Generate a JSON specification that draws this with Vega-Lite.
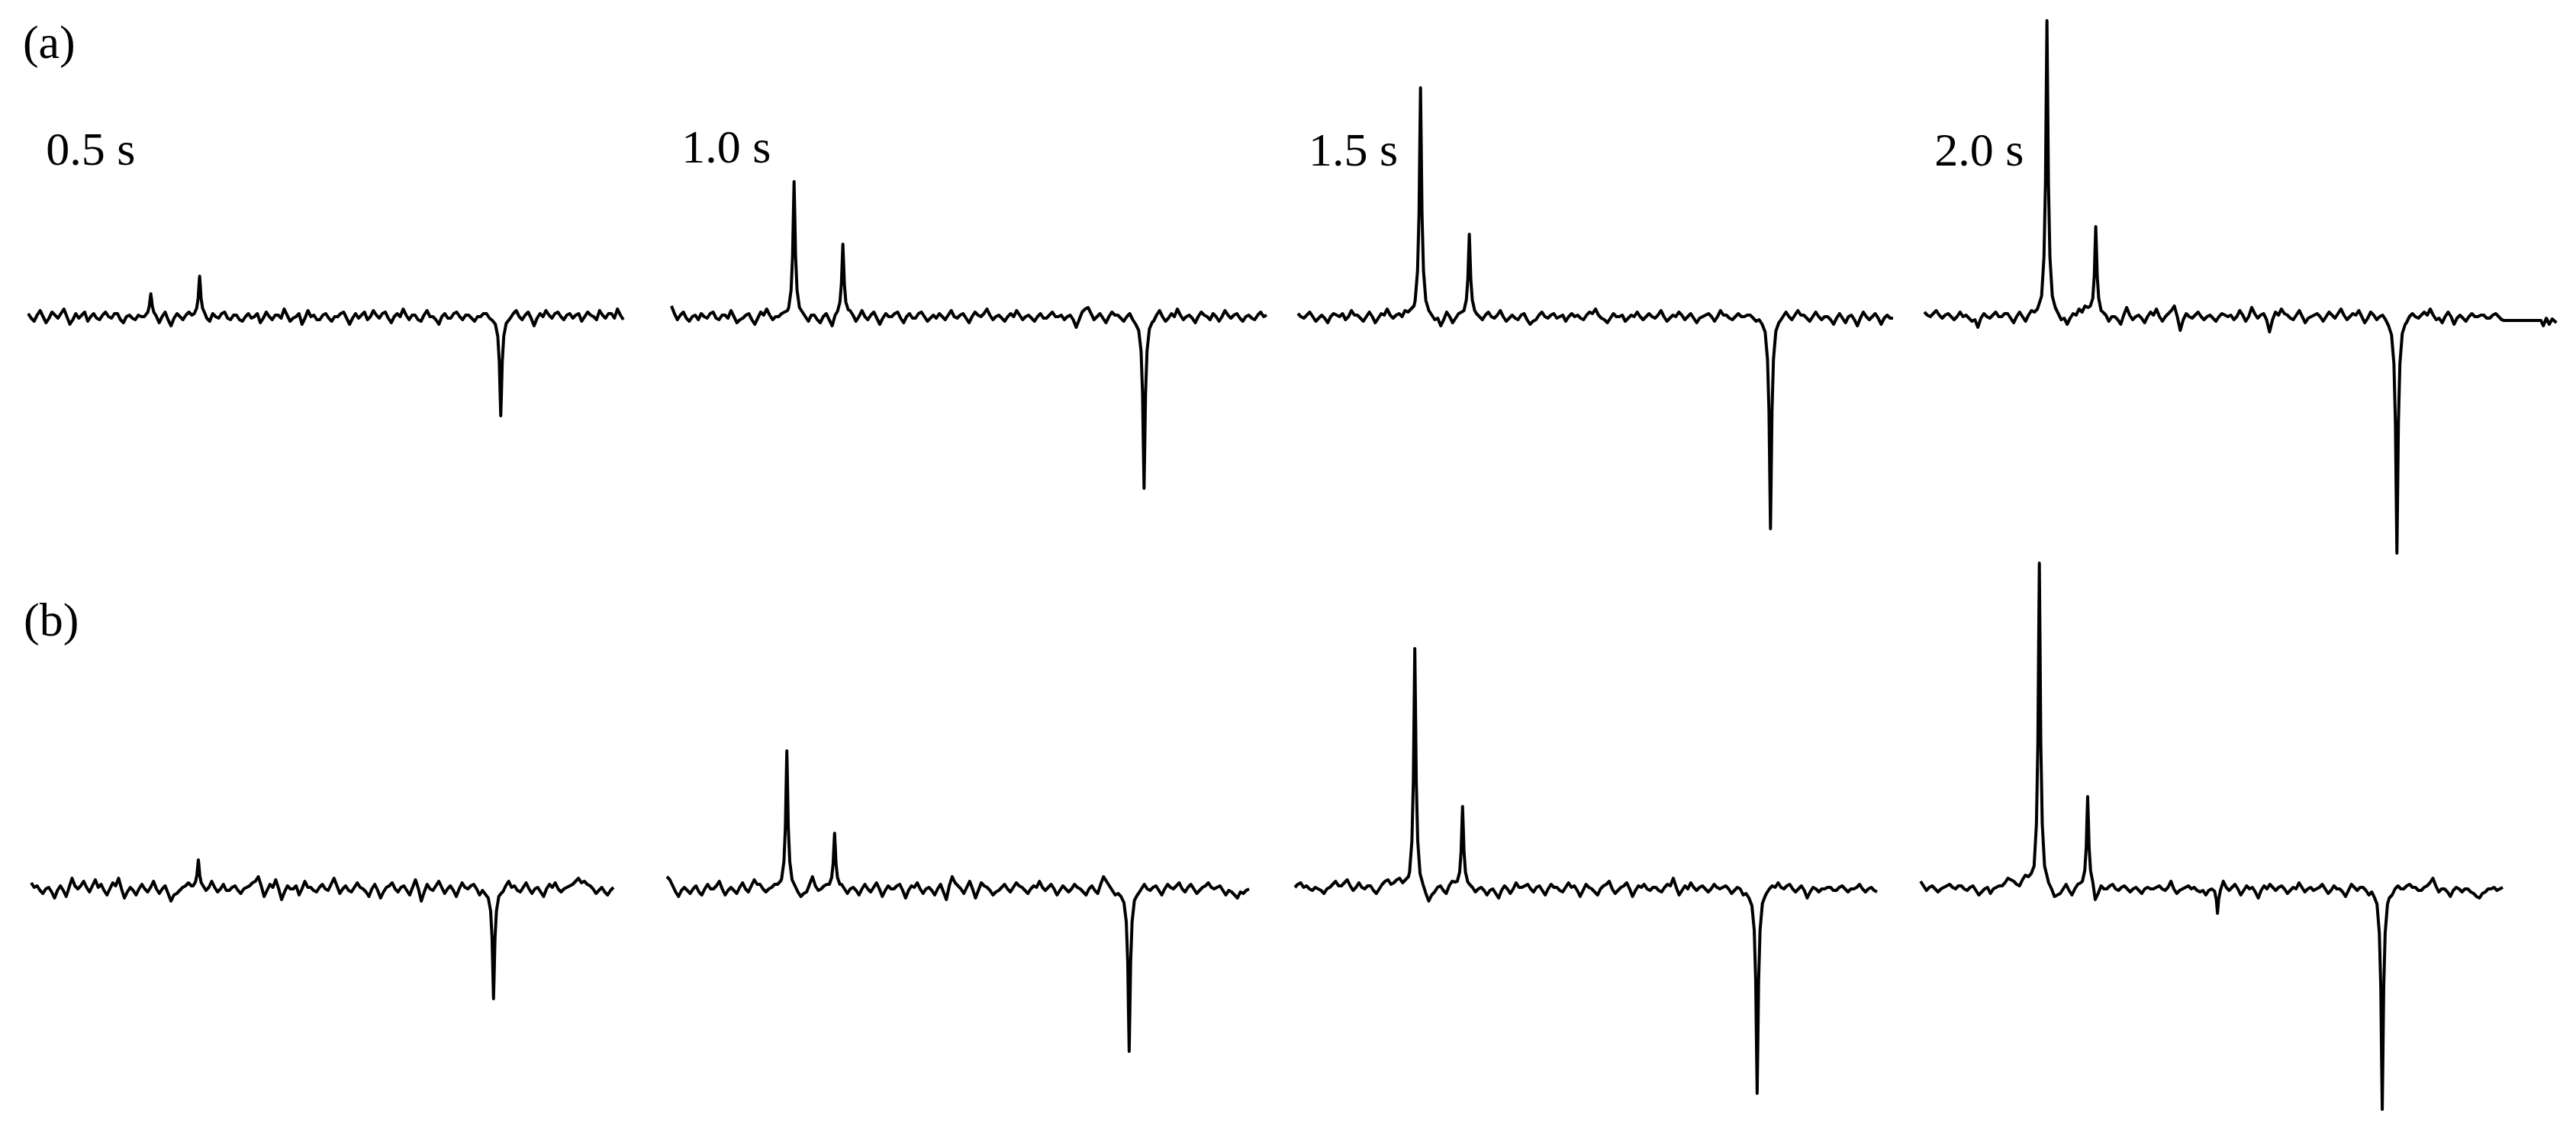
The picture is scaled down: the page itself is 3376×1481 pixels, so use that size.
{
"$schema": "https://vega.github.io/schema/vega-lite/v6.json",
"padding": 0,
"background": "white",
"spacing": 0,
"columns": 4,
"bounds": "flush",
"config": {"view": {"stroke": null}},
"datasets": {
"a1": [{"x":0,"y":4},{"x":0.5,"y":-2},{"x":1,"y":-6},{"x":1.5,"y":2},{"x":2,"y":8},{"x":2.5,"y":0},{"x":3,"y":-8},{"x":3.5,"y":-2},{"x":4,"y":6},{"x":4.5,"y":2},{"x":5,"y":-2},{"x":5.5,"y":4},{"x":6,"y":10},{"x":6.5,"y":0},{"x":7,"y":-10},{"x":7.5,"y":-4},{"x":8,"y":4},{"x":8.5,"y":-2},{"x":9,"y":2},{"x":9.5,"y":6},{"x":10,"y":-6},{"x":10.5,"y":0},{"x":11,"y":4},{"x":11.5,"y":-2},{"x":12,"y":-4},{"x":12.5,"y":2},{"x":13,"y":6},{"x":13.5,"y":0},{"x":14,"y":-2},{"x":14.5,"y":4},{"x":15,"y":4},{"x":15.5,"y":-4},{"x":16,"y":-8},{"x":16.5,"y":0},{"x":17,"y":2},{"x":17.5,"y":-2},{"x":18,"y":-4},{"x":18.5,"y":2},{"x":19,"y":0},{"x":19.5,"y":0},{"x":19.7,"y":2},{"x":20.1,"y":6},{"x":20.35,"y":14},{"x":20.48,"y":23},{"x":20.6,"y":30},{"x":20.72,"y":23},{"x":20.85,"y":14},{"x":21.1,"y":6},{"x":21.5,"y":1},{"x":22,"y":-8},{"x":22.5,"y":0},{"x":23,"y":6},{"x":23.5,"y":-4},{"x":24,"y":-12},{"x":24.5,"y":-2},{"x":25,"y":4},{"x":25.5,"y":0},{"x":26,"y":-4},{"x":26.5,"y":2},{"x":27,"y":6},{"x":27.5,"y":2},{"x":27.9,"y":4},{"x":28.3,"y":11},{"x":28.55,"y":24},{"x":28.68,"y":40},{"x":28.8,"y":53},{"x":28.92,"y":40},{"x":29.05,"y":24},{"x":29.3,"y":11},{"x":29.7,"y":4},{"x":30,"y":-2},{"x":30.5,"y":-6},{"x":31,"y":4},{"x":31.5,"y":0},{"x":32,"y":-2},{"x":32.5,"y":4},{"x":33,"y":6},{"x":33.5,"y":-2},{"x":34,"y":-4},{"x":34.5,"y":2},{"x":35,"y":2},{"x":35.5,"y":-4},{"x":36,"y":-6},{"x":36.5,"y":0},{"x":37,"y":4},{"x":37.5,"y":-2},{"x":38,"y":0},{"x":38.5,"y":4},{"x":39,"y":-8},{"x":39.5,"y":-2},{"x":40,"y":6},{"x":40.5,"y":0},{"x":41,"y":-4},{"x":41.5,"y":2},{"x":42,"y":2},{"x":42.5,"y":-2},{"x":43,"y":10},{"x":43.5,"y":2},{"x":44,"y":-6},{"x":44.5,"y":-2},{"x":45,"y":0},{"x":45.5,"y":4},{"x":46,"y":-10},{"x":46.5,"y":-2},{"x":47,"y":8},{"x":47.5,"y":0},{"x":48,"y":2},{"x":48.5,"y":-4},{"x":49,"y":-4},{"x":49.5,"y":2},{"x":50,"y":4},{"x":50.5,"y":-2},{"x":51,"y":-6},{"x":51.5,"y":0},{"x":52,"y":0},{"x":52.5,"y":4},{"x":53,"y":6},{"x":53.5,"y":-2},{"x":54,"y":-10},{"x":54.5,"y":-2},{"x":55,"y":4},{"x":55.5,"y":-2},{"x":56,"y":2},{"x":56.5,"y":6},{"x":57,"y":-4},{"x":57.5,"y":0},{"x":58,"y":8},{"x":58.5,"y":2},{"x":59,"y":-2},{"x":59.5,"y":4},{"x":60,"y":6},{"x":60.5,"y":-2},{"x":61,"y":-8},{"x":61.5,"y":0},{"x":62,"y":4},{"x":62.5,"y":0},{"x":63,"y":10},{"x":63.5,"y":2},{"x":64,"y":-4},{"x":64.5,"y":2},{"x":65,"y":2},{"x":65.5,"y":-4},{"x":66,"y":-6},{"x":66.5,"y":2},{"x":67,"y":8},{"x":67.5,"y":0},{"x":68,"y":0},{"x":68.5,"y":-4},{"x":69,"y":-10},{"x":69.5,"y":0},{"x":70,"y":4},{"x":70.5,"y":-2},{"x":71,"y":-2},{"x":71.5,"y":4},{"x":72,"y":6},{"x":72.5,"y":0},{"x":73,"y":-4},{"x":73.5,"y":2},{"x":74,"y":2},{"x":74.5,"y":-2},{"x":75,"y":-6},{"x":75.5,"y":0},{"x":76,"y":0},{"x":76.5,"y":4},{"x":77,"y":4},{"x":77.5,"y":-2},{"x":78,"y":-5},{"x":78.5,"y":-10},{"x":78.9,"y":-26},{"x":79.15,"y":-59},{"x":79.28,"y":-98},{"x":79.4,"y":-130},{"x":79.52,"y":-98},{"x":79.65,"y":-59},{"x":79.9,"y":-26},{"x":80.3,"y":-9},{"x":80.8,"y":-4},{"x":81,"y":-2},{"x":81.5,"y":4},{"x":82,"y":8},{"x":82.5,"y":0},{"x":83,"y":-4},{"x":83.5,"y":2},{"x":84,"y":6},{"x":84.5,"y":-2},{"x":85,"y":-12},{"x":85.5,"y":-2},{"x":86,"y":4},{"x":86.5,"y":0},{"x":87,"y":8},{"x":87.5,"y":2},{"x":88,"y":-2},{"x":88.5,"y":4},{"x":89,"y":6},{"x":89.5,"y":0},{"x":90,"y":-4},{"x":90.5,"y":2},{"x":91,"y":4},{"x":91.5,"y":-2},{"x":92,"y":2},{"x":92.5,"y":4},{"x":93,"y":-6},{"x":93.5,"y":0},{"x":94,"y":6},{"x":94.5,"y":2},{"x":95,"y":0},{"x":95.5,"y":-4},{"x":96,"y":8},{"x":96.5,"y":2},{"x":97,"y":-2},{"x":97.5,"y":4},{"x":98,"y":4},{"x":98.5,"y":-2},{"x":99,"y":10},{"x":99.5,"y":2},{"x":100,"y":-4}],
"a2": [{"x":0,"y":14},{"x":0.5,"y":4},{"x":1,"y":-4},{"x":1.5,"y":2},{"x":2,"y":6},{"x":2.5,"y":-2},{"x":3,"y":-6},{"x":3.5,"y":0},{"x":4,"y":2},{"x":4.5,"y":-4},{"x":5,"y":4},{"x":5.5,"y":0},{"x":6,"y":-2},{"x":6.5,"y":4},{"x":7,"y":6},{"x":7.5,"y":-2},{"x":8,"y":-4},{"x":8.5,"y":2},{"x":9,"y":2},{"x":9.5,"y":-2},{"x":10,"y":8},{"x":10.5,"y":0},{"x":11,"y":-8},{"x":11.5,"y":-4},{"x":12,"y":-2},{"x":12.5,"y":2},{"x":13,"y":4},{"x":13.5,"y":-4},{"x":14,"y":-10},{"x":14.5,"y":-2},{"x":15,"y":6},{"x":15.5,"y":2},{"x":16,"y":10},{"x":16.5,"y":2},{"x":17,"y":-4},{"x":17.5,"y":0},{"x":18,"y":0},{"x":18.5,"y":4},{"x":19,"y":6},{"x":19.5,"y":8},{"x":19.7,"y":12},{"x":20.1,"y":35},{"x":20.35,"y":80},{"x":20.48,"y":133},{"x":20.6,"y":177},{"x":20.72,"y":133},{"x":20.85,"y":80},{"x":21.1,"y":35},{"x":21.5,"y":12},{"x":22,"y":6},{"x":22.5,"y":0},{"x":23,"y":-6},{"x":23.5,"y":2},{"x":24,"y":2},{"x":24.5,"y":-4},{"x":25,"y":-8},{"x":25.5,"y":0},{"x":26,"y":4},{"x":26.5,"y":-4},{"x":27,"y":-12},{"x":27.5,"y":2},{"x":27.9,"y":7},{"x":28.3,"y":19},{"x":28.55,"y":43},{"x":28.68,"y":71},{"x":28.8,"y":95},{"x":28.92,"y":71},{"x":29.05,"y":43},{"x":29.3,"y":19},{"x":29.7,"y":9},{"x":30,"y":8},{"x":30.5,"y":2},{"x":31,"y":-6},{"x":31.5,"y":0},{"x":32,"y":8},{"x":32.5,"y":0},{"x":33,"y":-4},{"x":33.5,"y":2},{"x":34,"y":6},{"x":34.5,"y":-2},{"x":35,"y":-10},{"x":35.5,"y":-2},{"x":36,"y":4},{"x":36.5,"y":0},{"x":37,"y":0},{"x":37.5,"y":4},{"x":38,"y":6},{"x":38.5,"y":-2},{"x":39,"y":-8},{"x":39.5,"y":0},{"x":40,"y":4},{"x":40.5,"y":-2},{"x":41,"y":-2},{"x":41.5,"y":4},{"x":42,"y":6},{"x":42.5,"y":0},{"x":43,"y":-6},{"x":43.5,"y":-2},{"x":44,"y":2},{"x":44.5,"y":-2},{"x":45,"y":4},{"x":45.5,"y":0},{"x":46,"y":-4},{"x":46.5,"y":2},{"x":47,"y":8},{"x":47.5,"y":0},{"x":48,"y":-2},{"x":48.5,"y":2},{"x":49,"y":4},{"x":49.5,"y":-2},{"x":50,"y":-8},{"x":50.5,"y":0},{"x":51,"y":6},{"x":51.5,"y":2},{"x":52,"y":0},{"x":52.5,"y":4},{"x":53,"y":10},{"x":53.5,"y":2},{"x":54,"y":-4},{"x":54.5,"y":0},{"x":55,"y":2},{"x":55.5,"y":-2},{"x":56,"y":-6},{"x":56.5,"y":0},{"x":57,"y":4},{"x":57.5,"y":0},{"x":58,"y":8},{"x":58.5,"y":2},{"x":59,"y":-4},{"x":59.5,"y":0},{"x":60,"y":2},{"x":60.5,"y":-2},{"x":61,"y":-6},{"x":61.5,"y":0},{"x":62,"y":4},{"x":62.5,"y":-2},{"x":63,"y":-2},{"x":63.5,"y":2},{"x":64,"y":6},{"x":64.5,"y":0},{"x":65,"y":0},{"x":65.5,"y":2},{"x":66,"y":-4},{"x":66.5,"y":0},{"x":67,"y":2},{"x":67.5,"y":-4},{"x":68,"y":-14},{"x":68.5,"y":-4},{"x":69,"y":6},{"x":69.5,"y":10},{"x":70,"y":12},{"x":70.5,"y":4},{"x":71,"y":-4},{"x":71.5,"y":0},{"x":72,"y":4},{"x":72.5,"y":-2},{"x":73,"y":-8},{"x":73.5,"y":0},{"x":74,"y":6},{"x":74.5,"y":2},{"x":75,"y":2},{"x":75.5,"y":-2},{"x":76,"y":-6},{"x":76.5,"y":0},{"x":77,"y":4},{"x":77.5,"y":-4},{"x":78,"y":-10},{"x":78.5,"y":-18},{"x":78.9,"y":-45},{"x":79.15,"y":-101},{"x":79.28,"y":-169},{"x":79.4,"y":-225},{"x":79.52,"y":-169},{"x":79.65,"y":-101},{"x":79.9,"y":-45},{"x":80.3,"y":-16},{"x":80.8,"y":-7},{"x":81,"y":-6},{"x":81.5,"y":2},{"x":82,"y":8},{"x":82.5,"y":0},{"x":83,"y":-6},{"x":83.5,"y":-2},{"x":84,"y":4},{"x":84.5,"y":0},{"x":85,"y":10},{"x":85.5,"y":2},{"x":86,"y":-4},{"x":86.5,"y":0},{"x":87,"y":2},{"x":87.5,"y":-2},{"x":88,"y":-8},{"x":88.5,"y":0},{"x":89,"y":6},{"x":89.5,"y":2},{"x":90,"y":0},{"x":90.5,"y":-4},{"x":91,"y":4},{"x":91.5,"y":0},{"x":92,"y":-6},{"x":92.5,"y":0},{"x":93,"y":8},{"x":93.5,"y":2},{"x":94,"y":-2},{"x":94.5,"y":2},{"x":95,"y":4},{"x":95.5,"y":-2},{"x":96,"y":-6},{"x":96.5,"y":0},{"x":97,"y":2},{"x":97.5,"y":-2},{"x":98,"y":-4},{"x":98.5,"y":2},{"x":99,"y":6},{"x":99.5,"y":0},{"x":100,"y":2}],
"a3": [{"x":0,"y":4},{"x":0.5,"y":0},{"x":1,"y":-2},{"x":1.5,"y":2},{"x":2,"y":6},{"x":2.5,"y":0},{"x":3,"y":-6},{"x":3.5,"y":-2},{"x":4,"y":2},{"x":4.5,"y":-2},{"x":5,"y":-8},{"x":5.5,"y":0},{"x":6,"y":4},{"x":6.5,"y":2},{"x":7,"y":0},{"x":7.5,"y":4},{"x":8,"y":-4},{"x":8.5,"y":0},{"x":9,"y":8},{"x":9.5,"y":2},{"x":10,"y":2},{"x":10.5,"y":-2},{"x":11,"y":-6},{"x":11.5,"y":0},{"x":12,"y":6},{"x":12.5,"y":0},{"x":13,"y":-8},{"x":13.5,"y":-2},{"x":14,"y":4},{"x":14.5,"y":2},{"x":15,"y":10},{"x":15.5,"y":2},{"x":16,"y":-2},{"x":16.5,"y":2},{"x":17,"y":4},{"x":17.5,"y":0},{"x":18,"y":8},{"x":18.5,"y":6},{"x":19,"y":10},{"x":19.5,"y":14},{"x":19.7,"y":21},{"x":20.1,"y":60},{"x":20.35,"y":135},{"x":20.48,"y":225},{"x":20.6,"y":300},{"x":20.72,"y":225},{"x":20.85,"y":135},{"x":21.1,"y":60},{"x":21.5,"y":21},{"x":22,"y":8},{"x":22.5,"y":2},{"x":23,"y":-4},{"x":23.5,"y":-2},{"x":24,"y":-12},{"x":24.5,"y":-4},{"x":25,"y":6},{"x":25.5,"y":0},{"x":26,"y":-8},{"x":26.5,"y":-2},{"x":27,"y":4},{"x":27.5,"y":6},{"x":27.9,"y":8},{"x":28.3,"y":22},{"x":28.55,"y":49},{"x":28.68,"y":81},{"x":28.8,"y":108},{"x":28.92,"y":81},{"x":29.05,"y":49},{"x":29.3,"y":22},{"x":29.7,"y":8},{"x":30,"y":4},{"x":30.5,"y":0},{"x":31,"y":-4},{"x":31.5,"y":2},{"x":32,"y":6},{"x":32.5,"y":0},{"x":33,"y":-2},{"x":33.5,"y":2},{"x":34,"y":8},{"x":34.5,"y":0},{"x":35,"y":-6},{"x":35.5,"y":-2},{"x":36,"y":2},{"x":36.5,"y":-2},{"x":37,"y":-4},{"x":37.5,"y":2},{"x":38,"y":4},{"x":38.5,"y":-4},{"x":39,"y":-10},{"x":39.5,"y":-6},{"x":40,"y":-4},{"x":40.5,"y":2},{"x":41,"y":6},{"x":41.5,"y":0},{"x":42,"y":-2},{"x":42.5,"y":2},{"x":43,"y":4},{"x":43.5,"y":-2},{"x":44,"y":0},{"x":44.5,"y":2},{"x":45,"y":-6},{"x":45.5,"y":0},{"x":46,"y":4},{"x":46.5,"y":0},{"x":47,"y":2},{"x":47.5,"y":-2},{"x":48,"y":-4},{"x":48.5,"y":2},{"x":49,"y":6},{"x":49.5,"y":4},{"x":50,"y":10},{"x":50.5,"y":2},{"x":51,"y":-2},{"x":51.5,"y":-4},{"x":52,"y":-8},{"x":52.5,"y":-2},{"x":53,"y":4},{"x":53.5,"y":0},{"x":54,"y":0},{"x":54.5,"y":2},{"x":55,"y":-6},{"x":55.5,"y":-2},{"x":56,"y":2},{"x":56.5,"y":0},{"x":57,"y":6},{"x":57.5,"y":0},{"x":58,"y":-4},{"x":58.5,"y":0},{"x":59,"y":4},{"x":59.5,"y":0},{"x":60,"y":-2},{"x":60.5,"y":2},{"x":61,"y":8},{"x":61.5,"y":0},{"x":62,"y":-6},{"x":62.5,"y":-2},{"x":63,"y":2},{"x":63.5,"y":0},{"x":64,"y":6},{"x":64.5,"y":2},{"x":65,"y":-4},{"x":65.5,"y":0},{"x":66,"y":4},{"x":66.5,"y":-2},{"x":67,"y":-8},{"x":67.5,"y":-2},{"x":68,"y":0},{"x":68.5,"y":2},{"x":69,"y":4},{"x":69.5,"y":0},{"x":70,"y":-6},{"x":70.5,"y":0},{"x":71,"y":8},{"x":71.5,"y":2},{"x":72,"y":2},{"x":72.5,"y":-2},{"x":73,"y":-4},{"x":73.5,"y":0},{"x":74,"y":4},{"x":74.5,"y":0},{"x":75,"y":0},{"x":75.5,"y":2},{"x":76,"y":2},{"x":76.5,"y":-2},{"x":77,"y":-6},{"x":77.5,"y":-4},{"x":78,"y":-10},{"x":78.5,"y":-20},{"x":78.9,"y":-56},{"x":79.15,"y":-125},{"x":79.28,"y":-209},{"x":79.4,"y":-278},{"x":79.52,"y":-209},{"x":79.65,"y":-125},{"x":79.9,"y":-56},{"x":80.3,"y":-19},{"x":80.8,"y":-8},{"x":81,"y":-6},{"x":81.5,"y":0},{"x":82,"y":6},{"x":82.5,"y":0},{"x":83,"y":-4},{"x":83.5,"y":2},{"x":84,"y":8},{"x":84.5,"y":2},{"x":85,"y":2},{"x":85.5,"y":-2},{"x":86,"y":-6},{"x":86.5,"y":0},{"x":87,"y":6},{"x":87.5,"y":0},{"x":88,"y":-4},{"x":88.5,"y":0},{"x":89,"y":0},{"x":89.5,"y":-4},{"x":90,"y":-10},{"x":90.5,"y":-2},{"x":91,"y":4},{"x":91.5,"y":-2},{"x":92,"y":-8},{"x":92.5,"y":0},{"x":93,"y":2},{"x":93.5,"y":-4},{"x":94,"y":-12},{"x":94.5,"y":-2},{"x":95,"y":6},{"x":95.5,"y":0},{"x":96,"y":-4},{"x":96.5,"y":0},{"x":97,"y":4},{"x":97.5,"y":-2},{"x":98,"y":-10},{"x":98.5,"y":-2},{"x":99,"y":2},{"x":99.5,"y":-2},{"x":100,"y":-2}],
"a4": [{"x":0,"y":6},{"x":0.5,"y":2},{"x":1,"y":0},{"x":1.5,"y":4},{"x":2,"y":8},{"x":2.5,"y":2},{"x":3,"y":-2},{"x":3.5,"y":2},{"x":4,"y":4},{"x":4.5,"y":0},{"x":5,"y":-4},{"x":5.5,"y":0},{"x":6,"y":6},{"x":6.5,"y":0},{"x":7,"y":2},{"x":7.5,"y":-2},{"x":8,"y":-6},{"x":8.5,"y":-4},{"x":9,"y":-14},{"x":9.5,"y":-2},{"x":10,"y":4},{"x":10.5,"y":0},{"x":11,"y":-2},{"x":11.5,"y":2},{"x":12,"y":6},{"x":12.5,"y":0},{"x":13,"y":0},{"x":13.5,"y":4},{"x":14,"y":4},{"x":14.5,"y":-2},{"x":15,"y":-8},{"x":15.5,"y":0},{"x":16,"y":6},{"x":16.5,"y":0},{"x":17,"y":-6},{"x":17.5,"y":2},{"x":18,"y":8},{"x":18.5,"y":6},{"x":19,"y":10},{"x":19.5,"y":22},{"x":19.7,"y":27},{"x":20.1,"y":78},{"x":20.35,"y":175},{"x":20.48,"y":291},{"x":20.6,"y":388},{"x":20.72,"y":291},{"x":20.85,"y":175},{"x":21.1,"y":78},{"x":21.5,"y":27},{"x":22,"y":12},{"x":22.5,"y":4},{"x":23,"y":-4},{"x":23.5,"y":-2},{"x":24,"y":-10},{"x":24.5,"y":-2},{"x":25,"y":4},{"x":25.5,"y":2},{"x":26,"y":10},{"x":26.5,"y":6},{"x":27,"y":14},{"x":27.5,"y":12},{"x":27.9,"y":14},{"x":28.3,"y":24},{"x":28.55,"y":53},{"x":28.68,"y":89},{"x":28.8,"y":118},{"x":28.92,"y":89},{"x":29.05,"y":53},{"x":29.3,"y":24},{"x":29.7,"y":8},{"x":30,"y":6},{"x":30.5,"y":2},{"x":31,"y":-6},{"x":31.5,"y":0},{"x":32,"y":0},{"x":32.5,"y":-4},{"x":33,"y":-10},{"x":33.5,"y":2},{"x":34,"y":12},{"x":34.5,"y":2},{"x":35,"y":-4},{"x":35.5,"y":0},{"x":36,"y":2},{"x":36.5,"y":-2},{"x":37,"y":-8},{"x":37.5,"y":0},{"x":38,"y":6},{"x":38.5,"y":2},{"x":39,"y":10},{"x":39.5,"y":0},{"x":40,"y":-6},{"x":40.5,"y":0},{"x":41,"y":4},{"x":41.5,"y":8},{"x":42,"y":14},{"x":42.5,"y":0},{"x":43,"y":-18},{"x":43.5,"y":-4},{"x":44,"y":4},{"x":44.5,"y":0},{"x":45,"y":-2},{"x":45.5,"y":2},{"x":46,"y":6},{"x":46.5,"y":0},{"x":47,"y":-4},{"x":47.5,"y":0},{"x":48,"y":2},{"x":48.5,"y":-2},{"x":49,"y":-6},{"x":49.5,"y":0},{"x":50,"y":4},{"x":50.5,"y":2},{"x":51,"y":0},{"x":51.5,"y":2},{"x":52,"y":-4},{"x":52.5,"y":0},{"x":53,"y":8},{"x":53.5,"y":2},{"x":54,"y":-6},{"x":54.5,"y":0},{"x":55,"y":12},{"x":55.5,"y":4},{"x":56,"y":-2},{"x":56.5,"y":2},{"x":57,"y":4},{"x":57.5,"y":-4},{"x":58,"y":-20},{"x":58.5,"y":-4},{"x":59,"y":6},{"x":59.5,"y":2},{"x":60,"y":10},{"x":60.5,"y":4},{"x":61,"y":2},{"x":61.5,"y":-2},{"x":62,"y":-4},{"x":62.5,"y":2},{"x":63,"y":8},{"x":63.5,"y":0},{"x":64,"y":-8},{"x":64.5,"y":-2},{"x":65,"y":0},{"x":65.5,"y":2},{"x":66,"y":4},{"x":66.5,"y":0},{"x":67,"y":-6},{"x":67.5,"y":0},{"x":68,"y":6},{"x":68.5,"y":2},{"x":69,"y":-2},{"x":69.5,"y":4},{"x":70,"y":10},{"x":70.5,"y":2},{"x":71,"y":-4},{"x":71.5,"y":0},{"x":72,"y":4},{"x":72.5,"y":2},{"x":73,"y":8},{"x":73.5,"y":0},{"x":74,"y":-8},{"x":74.5,"y":-2},{"x":75,"y":6},{"x":75.5,"y":2},{"x":76,"y":-4},{"x":76.5,"y":0},{"x":77,"y":2},{"x":77.5,"y":-4},{"x":78,"y":-12},{"x":78.5,"y":-24},{"x":78.9,"y":-62},{"x":79.15,"y":-140},{"x":79.28,"y":-233},{"x":79.4,"y":-310},{"x":79.52,"y":-233},{"x":79.65,"y":-140},{"x":79.9,"y":-62},{"x":80.3,"y":-22},{"x":80.8,"y":-10},{"x":81,"y":-8},{"x":81.5,"y":0},{"x":82,"y":4},{"x":82.5,"y":0},{"x":83,"y":-2},{"x":83.5,"y":2},{"x":84,"y":6},{"x":84.5,"y":2},{"x":85,"y":10},{"x":85.5,"y":2},{"x":86,"y":-4},{"x":86.5,"y":-2},{"x":87,"y":-8},{"x":87.5,"y":0},{"x":88,"y":6},{"x":88.5,"y":0},{"x":89,"y":-10},{"x":89.5,"y":-2},{"x":90,"y":2},{"x":90.5,"y":-2},{"x":91,"y":-6},{"x":91.5,"y":0},{"x":92,"y":4},{"x":92.5,"y":0},{"x":93,"y":0},{"x":93.5,"y":2},{"x":94,"y":2},{"x":94.5,"y":-2},{"x":95,"y":-2},{"x":95.5,"y":2},{"x":96,"y":4},{"x":96.5,"y":0},{"x":97,"y":-4},{"x":97.4,"y":-5},{"x":103.6,"y":-5},{"x":104,"y":-12},{"x":104.5,"y":-2},{"x":105,"y":-10},{"x":105.5,"y":-3},{"x":106.2,"y":-8}],
"b1": [{"x":0,"y":8},{"x":0.5,"y":2},{"x":1,"y":4},{"x":1.5,"y":-2},{"x":2,"y":-6},{"x":2.5,"y":0},{"x":3,"y":2},{"x":3.5,"y":-4},{"x":4,"y":-12},{"x":4.5,"y":-2},{"x":5,"y":4},{"x":5.5,"y":-2},{"x":6,"y":-10},{"x":6.5,"y":2},{"x":7,"y":14},{"x":7.5,"y":4},{"x":8,"y":0},{"x":8.5,"y":4},{"x":9,"y":10},{"x":9.5,"y":2},{"x":10,"y":-4},{"x":10.5,"y":4},{"x":11,"y":12},{"x":11.5,"y":2},{"x":12,"y":6},{"x":12.5,"y":-2},{"x":13,"y":-8},{"x":13.5,"y":0},{"x":14,"y":8},{"x":14.5,"y":4},{"x":15,"y":14},{"x":15.5,"y":0},{"x":16,"y":-12},{"x":16.5,"y":-4},{"x":17,"y":2},{"x":17.5,"y":-2},{"x":18,"y":-8},{"x":18.5,"y":0},{"x":19,"y":6},{"x":19.5,"y":0},{"x":20,"y":-4},{"x":20.5,"y":2},{"x":21,"y":10},{"x":21.5,"y":0},{"x":22,"y":-6},{"x":22.5,"y":0},{"x":23,"y":4},{"x":23.5,"y":-6},{"x":24,"y":-16},{"x":24.5,"y":-8},{"x":25,"y":-6},{"x":25.5,"y":-2},{"x":26,"y":2},{"x":26.5,"y":4},{"x":27,"y":8},{"x":27.5,"y":4},{"x":27.8,"y":4},{"x":28.2,"y":9},{"x":28.45,"y":18},{"x":28.58,"y":29},{"x":28.7,"y":38},{"x":28.82,"y":29},{"x":28.95,"y":17},{"x":29.2,"y":8},{"x":29.6,"y":3},{"x":30,"y":-2},{"x":30.5,"y":2},{"x":31,"y":10},{"x":31.5,"y":2},{"x":32,"y":-4},{"x":32.5,"y":0},{"x":33,"y":6},{"x":33.5,"y":-2},{"x":34,"y":-2},{"x":34.5,"y":2},{"x":35,"y":4},{"x":35.5,"y":-2},{"x":36,"y":-6},{"x":36.5,"y":0},{"x":37,"y":2},{"x":37.5,"y":4},{"x":38,"y":8},{"x":38.5,"y":10},{"x":39,"y":16},{"x":39.5,"y":4},{"x":40,"y":-10},{"x":40.5,"y":-2},{"x":41,"y":6},{"x":41.5,"y":2},{"x":42,"y":12},{"x":42.5,"y":0},{"x":43,"y":-14},{"x":43.5,"y":-4},{"x":44,"y":4},{"x":44.5,"y":0},{"x":45,"y":0},{"x":45.5,"y":4},{"x":46,"y":-8},{"x":46.5,"y":0},{"x":47,"y":10},{"x":47.5,"y":2},{"x":48,"y":2},{"x":48.5,"y":-2},{"x":49,"y":-4},{"x":49.5,"y":2},{"x":50,"y":6},{"x":50.5,"y":0},{"x":51,"y":-2},{"x":51.5,"y":6},{"x":52,"y":14},{"x":52.5,"y":4},{"x":53,"y":-6},{"x":53.5,"y":0},{"x":54,"y":4},{"x":54.5,"y":-2},{"x":55,"y":-4},{"x":55.5,"y":2},{"x":56,"y":8},{"x":56.5,"y":2},{"x":57,"y":0},{"x":57.5,"y":-4},{"x":58,"y":-10},{"x":58.5,"y":0},{"x":59,"y":6},{"x":59.5,"y":-2},{"x":60,"y":-12},{"x":60.5,"y":-4},{"x":61,"y":2},{"x":61.5,"y":4},{"x":62,"y":8},{"x":62.5,"y":0},{"x":63,"y":-4},{"x":63.5,"y":2},{"x":64,"y":4},{"x":64.5,"y":-2},{"x":65,"y":-8},{"x":65.5,"y":2},{"x":66,"y":12},{"x":66.5,"y":0},{"x":67,"y":-16},{"x":67.5,"y":-4},{"x":68,"y":6},{"x":68.5,"y":0},{"x":69,"y":-2},{"x":69.5,"y":4},{"x":70,"y":10},{"x":70.5,"y":2},{"x":71,"y":-6},{"x":71.5,"y":0},{"x":72,"y":4},{"x":72.5,"y":-2},{"x":73,"y":-10},{"x":73.5,"y":0},{"x":74,"y":8},{"x":74.5,"y":2},{"x":75,"y":0},{"x":75.5,"y":4},{"x":76,"y":6},{"x":76.5,"y":0},{"x":77,"y":-8},{"x":77.5,"y":-2},{"x":78,"y":-7},{"x":78.5,"y":-12},{"x":78.9,"y":-29},{"x":79.15,"y":-65},{"x":79.28,"y":-108},{"x":79.4,"y":-144},{"x":79.52,"y":-108},{"x":79.65,"y":-65},{"x":79.9,"y":-29},{"x":80.3,"y":-10},{"x":80.8,"y":-5},{"x":81,"y":-4},{"x":81.5,"y":4},{"x":82,"y":10},{"x":82.5,"y":2},{"x":83,"y":4},{"x":83.5,"y":-2},{"x":84,"y":-4},{"x":84.5,"y":2},{"x":85,"y":8},{"x":85.5,"y":0},{"x":86,"y":-6},{"x":86.5,"y":0},{"x":87,"y":2},{"x":87.5,"y":-4},{"x":88,"y":-10},{"x":88.5,"y":0},{"x":89,"y":6},{"x":89.5,"y":2},{"x":90,"y":8},{"x":90.5,"y":0},{"x":91,"y":-4},{"x":91.5,"y":0},{"x":92,"y":2},{"x":92.5,"y":4},{"x":93,"y":6},{"x":93.5,"y":10},{"x":94,"y":14},{"x":94.5,"y":8},{"x":95,"y":10},{"x":95.5,"y":6},{"x":96,"y":4},{"x":96.5,"y":0},{"x":97,"y":-6},{"x":97.5,"y":-2},{"x":98,"y":2},{"x":98.5,"y":-4},{"x":99,"y":-8},{"x":99.5,"y":-2},{"x":100,"y":2}],
"b2": [{"x":0,"y":16},{"x":0.5,"y":12},{"x":1,"y":4},{"x":1.5,"y":-4},{"x":2,"y":-10},{"x":2.5,"y":-2},{"x":3,"y":2},{"x":3.5,"y":-2},{"x":4,"y":-6},{"x":4.5,"y":0},{"x":5,"y":4},{"x":5.5,"y":-4},{"x":6,"y":-8},{"x":6.5,"y":0},{"x":7,"y":6},{"x":7.5,"y":0},{"x":8,"y":0},{"x":8.5,"y":4},{"x":9,"y":10},{"x":9.5,"y":0},{"x":10,"y":-8},{"x":10.5,"y":-2},{"x":11,"y":2},{"x":11.5,"y":-2},{"x":12,"y":-6},{"x":12.5,"y":2},{"x":13,"y":8},{"x":13.5,"y":0},{"x":14,"y":-4},{"x":14.5,"y":4},{"x":15,"y":12},{"x":15.5,"y":6},{"x":16,"y":6},{"x":16.5,"y":0},{"x":17,"y":-4},{"x":17.5,"y":0},{"x":18,"y":2},{"x":18.5,"y":6},{"x":19,"y":6},{"x":19.5,"y":10},{"x":19.7,"y":13},{"x":20.1,"y":36},{"x":20.35,"y":81},{"x":20.48,"y":136},{"x":20.6,"y":181},{"x":20.72,"y":136},{"x":20.85,"y":81},{"x":21.1,"y":36},{"x":21.5,"y":12},{"x":22,"y":4},{"x":22.5,"y":-4},{"x":23,"y":-10},{"x":23.5,"y":-6},{"x":24,"y":-4},{"x":24.5,"y":6},{"x":25,"y":16},{"x":25.5,"y":4},{"x":26,"y":-2},{"x":26.5,"y":0},{"x":27,"y":4},{"x":27.5,"y":6},{"x":27.9,"y":6},{"x":28.3,"y":15},{"x":28.55,"y":33},{"x":28.68,"y":55},{"x":28.8,"y":73},{"x":28.92,"y":55},{"x":29.05,"y":33},{"x":29.3,"y":15},{"x":29.7,"y":6},{"x":30,"y":6},{"x":30.5,"y":0},{"x":31,"y":-6},{"x":31.5,"y":0},{"x":32,"y":2},{"x":32.5,"y":-2},{"x":33,"y":-8},{"x":33.5,"y":0},{"x":34,"y":6},{"x":34.5,"y":0},{"x":35,"y":-4},{"x":35.5,"y":2},{"x":36,"y":8},{"x":36.5,"y":0},{"x":37,"y":-10},{"x":37.5,"y":-2},{"x":38,"y":4},{"x":38.5,"y":0},{"x":39,"y":0},{"x":39.5,"y":4},{"x":40,"y":6},{"x":40.5,"y":-2},{"x":41,"y":-12},{"x":41.5,"y":-2},{"x":42,"y":4},{"x":42.5,"y":2},{"x":43,"y":8},{"x":43.5,"y":0},{"x":44,"y":-6},{"x":44.5,"y":0},{"x":45,"y":2},{"x":45.5,"y":-2},{"x":46,"y":-8},{"x":46.5,"y":0},{"x":47,"y":6},{"x":47.5,"y":-4},{"x":48,"y":-14},{"x":48.5,"y":4},{"x":49,"y":16},{"x":49.5,"y":8},{"x":50,"y":4},{"x":50.5,"y":0},{"x":51,"y":-6},{"x":51.5,"y":2},{"x":52,"y":10},{"x":52.5,"y":0},{"x":53,"y":-12},{"x":53.5,"y":-2},{"x":54,"y":8},{"x":54.5,"y":4},{"x":55,"y":2},{"x":55.5,"y":-2},{"x":56,"y":-8},{"x":56.5,"y":-4},{"x":57,"y":-2},{"x":57.5,"y":2},{"x":58,"y":6},{"x":58.5,"y":0},{"x":59,"y":-4},{"x":59.5,"y":2},{"x":60,"y":8},{"x":60.5,"y":4},{"x":61,"y":2},{"x":61.5,"y":-2},{"x":62,"y":-6},{"x":62.5,"y":0},{"x":63,"y":4},{"x":63.5,"y":2},{"x":64,"y":10},{"x":64.5,"y":2},{"x":65,"y":-2},{"x":65.5,"y":2},{"x":66,"y":6},{"x":66.5,"y":0},{"x":67,"y":-8},{"x":67.5,"y":-2},{"x":68,"y":4},{"x":68.5,"y":0},{"x":69,"y":-4},{"x":69.5,"y":0},{"x":70,"y":6},{"x":70.5,"y":2},{"x":71,"y":0},{"x":71.5,"y":-4},{"x":72,"y":-8},{"x":72.5,"y":0},{"x":73,"y":4},{"x":73.5,"y":-2},{"x":74,"y":-6},{"x":74.5,"y":6},{"x":75,"y":16},{"x":75.5,"y":10},{"x":76,"y":4},{"x":76.5,"y":-2},{"x":77,"y":-8},{"x":77.5,"y":-6},{"x":78,"y":-10},{"x":78.5,"y":-18},{"x":78.9,"y":-43},{"x":79.15,"y":-96},{"x":79.28,"y":-160},{"x":79.4,"y":-213},{"x":79.52,"y":-160},{"x":79.65,"y":-96},{"x":79.9,"y":-43},{"x":80.3,"y":-15},{"x":80.8,"y":-8},{"x":81,"y":-6},{"x":81.5,"y":0},{"x":82,"y":6},{"x":82.5,"y":0},{"x":83,"y":-2},{"x":83.5,"y":2},{"x":84,"y":4},{"x":84.5,"y":-2},{"x":85,"y":-8},{"x":85.5,"y":0},{"x":86,"y":6},{"x":86.5,"y":2},{"x":87,"y":0},{"x":87.5,"y":4},{"x":88,"y":8},{"x":88.5,"y":0},{"x":89,"y":-4},{"x":89.5,"y":2},{"x":90,"y":6},{"x":90.5,"y":0},{"x":91,"y":-6},{"x":91.5,"y":-2},{"x":92,"y":2},{"x":92.5,"y":4},{"x":93,"y":8},{"x":93.5,"y":2},{"x":94,"y":0},{"x":94.5,"y":2},{"x":95,"y":4},{"x":95.5,"y":-2},{"x":96,"y":-8},{"x":96.5,"y":-2},{"x":97,"y":-4},{"x":97.5,"y":-8},{"x":98,"y":-12},{"x":98.5,"y":-4},{"x":99,"y":-6},{"x":99.5,"y":-2},{"x":100,"y":0}],
"b3": [{"x":0,"y":2},{"x":0.5,"y":6},{"x":1,"y":8},{"x":1.5,"y":2},{"x":2,"y":4},{"x":2.5,"y":0},{"x":3,"y":-2},{"x":3.5,"y":2},{"x":4,"y":0},{"x":4.5,"y":-2},{"x":5,"y":-6},{"x":5.5,"y":0},{"x":6,"y":2},{"x":6.5,"y":6},{"x":7,"y":10},{"x":7.5,"y":4},{"x":8,"y":4},{"x":8.5,"y":8},{"x":9,"y":12},{"x":9.5,"y":4},{"x":10,"y":-2},{"x":10.5,"y":2},{"x":11,"y":8},{"x":11.5,"y":2},{"x":12,"y":0},{"x":12.5,"y":4},{"x":13,"y":4},{"x":13.5,"y":-2},{"x":14,"y":-6},{"x":14.5,"y":0},{"x":15,"y":6},{"x":15.5,"y":10},{"x":16,"y":12},{"x":16.5,"y":6},{"x":17,"y":8},{"x":17.5,"y":12},{"x":18,"y":14},{"x":18.5,"y":8},{"x":19,"y":12},{"x":19.5,"y":16},{"x":19.7,"y":22},{"x":20.1,"y":63},{"x":20.35,"y":142},{"x":20.48,"y":236},{"x":20.6,"y":315},{"x":20.72,"y":236},{"x":20.85,"y":142},{"x":21.1,"y":63},{"x":21.5,"y":20},{"x":22,"y":6},{"x":22.5,"y":-6},{"x":23,"y":-16},{"x":23.5,"y":-8},{"x":24,"y":-4},{"x":24.5,"y":2},{"x":25,"y":4},{"x":25.5,"y":-2},{"x":26,"y":-6},{"x":26.5,"y":4},{"x":27,"y":10},{"x":27.5,"y":9},{"x":27.9,"y":10},{"x":28.3,"y":22},{"x":28.55,"y":49},{"x":28.68,"y":81},{"x":28.8,"y":108},{"x":28.92,"y":81},{"x":29.05,"y":49},{"x":29.3,"y":22},{"x":29.7,"y":9},{"x":30,"y":6},{"x":30.5,"y":2},{"x":31,"y":-4},{"x":31.5,"y":0},{"x":32,"y":2},{"x":32.5,"y":-2},{"x":33,"y":-8},{"x":33.5,"y":-2},{"x":34,"y":0},{"x":34.5,"y":-6},{"x":35,"y":-12},{"x":35.5,"y":-2},{"x":36,"y":4},{"x":36.5,"y":0},{"x":37,"y":-6},{"x":37.5,"y":0},{"x":38,"y":8},{"x":38.5,"y":2},{"x":39,"y":2},{"x":39.5,"y":4},{"x":40,"y":6},{"x":40.5,"y":0},{"x":41,"y":-4},{"x":41.5,"y":2},{"x":42,"y":4},{"x":42.5,"y":-2},{"x":43,"y":-8},{"x":43.5,"y":0},{"x":44,"y":6},{"x":44.5,"y":2},{"x":45,"y":2},{"x":45.5,"y":-2},{"x":46,"y":-4},{"x":46.5,"y":2},{"x":47,"y":8},{"x":47.5,"y":2},{"x":48,"y":4},{"x":48.5,"y":-2},{"x":49,"y":-10},{"x":49.5,"y":-2},{"x":50,"y":6},{"x":50.5,"y":2},{"x":51,"y":0},{"x":51.5,"y":-4},{"x":52,"y":-8},{"x":52.5,"y":0},{"x":53,"y":4},{"x":53.5,"y":6},{"x":54,"y":10},{"x":54.5,"y":0},{"x":55,"y":-6},{"x":55.5,"y":-2},{"x":56,"y":2},{"x":56.5,"y":4},{"x":57,"y":8},{"x":57.5,"y":0},{"x":58,"y":-10},{"x":58.5,"y":-2},{"x":59,"y":4},{"x":59.5,"y":2},{"x":60,"y":6},{"x":60.5,"y":0},{"x":61,"y":-2},{"x":61.5,"y":2},{"x":62,"y":2},{"x":62.5,"y":-2},{"x":63,"y":-4},{"x":63.5,"y":2},{"x":64,"y":6},{"x":64.5,"y":4},{"x":65,"y":14},{"x":65.5,"y":2},{"x":66,"y":-8},{"x":66.5,"y":-2},{"x":67,"y":4},{"x":67.5,"y":0},{"x":68,"y":8},{"x":68.5,"y":2},{"x":69,"y":-2},{"x":69.5,"y":2},{"x":70,"y":4},{"x":70.5,"y":0},{"x":71,"y":-4},{"x":71.5,"y":0},{"x":72,"y":6},{"x":72.5,"y":2},{"x":73,"y":0},{"x":73.5,"y":2},{"x":74,"y":4},{"x":74.5,"y":0},{"x":75,"y":-6},{"x":75.5,"y":-2},{"x":76,"y":2},{"x":76.5,"y":0},{"x":77,"y":-8},{"x":77.5,"y":-6},{"x":78,"y":-12},{"x":78.5,"y":-22},{"x":78.9,"y":-54},{"x":79.15,"y":-121},{"x":79.28,"y":-201},{"x":79.4,"y":-268},{"x":79.52,"y":-201},{"x":79.65,"y":-121},{"x":79.9,"y":-54},{"x":80.3,"y":-19},{"x":80.8,"y":-9},{"x":81,"y":-6},{"x":81.5,"y":0},{"x":82,"y":4},{"x":82.5,"y":2},{"x":83,"y":8},{"x":83.5,"y":2},{"x":84,"y":0},{"x":84.5,"y":4},{"x":85,"y":6},{"x":85.5,"y":0},{"x":86,"y":-4},{"x":86.5,"y":0},{"x":87,"y":4},{"x":87.5,"y":-2},{"x":88,"y":-12},{"x":88.5,"y":-4},{"x":89,"y":2},{"x":89.5,"y":0},{"x":90,"y":-4},{"x":90.5,"y":0},{"x":91,"y":0},{"x":91.5,"y":2},{"x":92,"y":2},{"x":92.5,"y":-2},{"x":93,"y":-2},{"x":93.5,"y":2},{"x":94,"y":4},{"x":94.5,"y":0},{"x":95,"y":-4},{"x":95.5,"y":0},{"x":96,"y":0},{"x":96.5,"y":2},{"x":97,"y":6},{"x":97.5,"y":0},{"x":98,"y":-4},{"x":98.5,"y":0},{"x":99,"y":2},{"x":99.5,"y":-2},{"x":100,"y":-4}],
"b4": [{"x":0,"y":10},{"x":0.5,"y":4},{"x":1,"y":-2},{"x":1.5,"y":2},{"x":2,"y":4},{"x":2.5,"y":0},{"x":3,"y":-4},{"x":3.5,"y":0},{"x":4,"y":2},{"x":4.5,"y":4},{"x":5,"y":6},{"x":5.5,"y":2},{"x":6,"y":0},{"x":6.5,"y":4},{"x":7,"y":4},{"x":7.5,"y":0},{"x":8,"y":-2},{"x":8.5,"y":2},{"x":9,"y":4},{"x":9.5,"y":-2},{"x":10,"y":-8},{"x":10.5,"y":-4},{"x":11,"y":0},{"x":11.5,"y":2},{"x":12,"y":-6},{"x":12.5,"y":0},{"x":13,"y":2},{"x":13.5,"y":4},{"x":14,"y":4},{"x":14.5,"y":8},{"x":15,"y":14},{"x":15.5,"y":12},{"x":16,"y":10},{"x":16.5,"y":6},{"x":17,"y":4},{"x":17.5,"y":12},{"x":18,"y":18},{"x":18.5,"y":16},{"x":19,"y":20},{"x":19.5,"y":30},{"x":19.9,"y":85},{"x":20.15,"y":192},{"x":20.28,"y":320},{"x":20.4,"y":427},{"x":20.52,"y":320},{"x":20.65,"y":192},{"x":20.9,"y":85},{"x":21.3,"y":30},{"x":22,"y":8},{"x":22.5,"y":0},{"x":23,"y":-10},{"x":23.5,"y":-8},{"x":24,"y":-6},{"x":24.5,"y":0},{"x":25,"y":6},{"x":25.5,"y":-2},{"x":26,"y":-8},{"x":26.5,"y":0},{"x":27,"y":6},{"x":27.5,"y":8},{"x":27.8,"y":10},{"x":28.2,"y":24},{"x":28.45,"y":54},{"x":28.58,"y":91},{"x":28.7,"y":121},{"x":28.82,"y":91},{"x":28.95,"y":54},{"x":29.2,"y":24},{"x":29.6,"y":8},{"x":30,"y":-14},{"x":30.5,"y":-6},{"x":31,"y":4},{"x":31.5,"y":0},{"x":32,"y":0},{"x":32.5,"y":4},{"x":33,"y":6},{"x":33.5,"y":0},{"x":34,"y":-2},{"x":34.5,"y":2},{"x":35,"y":4},{"x":35.5,"y":0},{"x":36,"y":-4},{"x":36.5,"y":0},{"x":37,"y":2},{"x":37.5,"y":-2},{"x":38,"y":-6},{"x":38.5,"y":0},{"x":39,"y":2},{"x":39.5,"y":0},{"x":40,"y":0},{"x":40.5,"y":2},{"x":41,"y":4},{"x":41.5,"y":0},{"x":42,"y":-2},{"x":42.5,"y":2},{"x":43,"y":10},{"x":43.5,"y":0},{"x":44,"y":-6},{"x":44.5,"y":-2},{"x":45,"y":0},{"x":45.5,"y":2},{"x":46,"y":4},{"x":46.5,"y":0},{"x":47,"y":2},{"x":47.5,"y":-2},{"x":48,"y":-4},{"x":48.5,"y":-2},{"x":49,"y":-8},{"x":49.5,"y":-2},{"x":50,"y":0},{"x":50.5,"y":-3},{"x":50.8,"y":-14},{"x":51,"y":-32},{"x":51.2,"y":-14},{"x":51.5,"y":-2},{"x":52,"y":10},{"x":52.5,"y":2},{"x":53,"y":-2},{"x":53.5,"y":2},{"x":54,"y":6},{"x":54.5,"y":0},{"x":55,"y":-8},{"x":55.5,"y":-2},{"x":56,"y":4},{"x":56.5,"y":0},{"x":57,"y":2},{"x":57.5,"y":-4},{"x":58,"y":-12},{"x":58.5,"y":-2},{"x":59,"y":4},{"x":59.5,"y":0},{"x":60,"y":6},{"x":60.5,"y":2},{"x":61,"y":-2},{"x":61.5,"y":2},{"x":62,"y":4},{"x":62.5,"y":0},{"x":63,"y":-6},{"x":63.5,"y":-2},{"x":64,"y":2},{"x":64.5,"y":0},{"x":65,"y":8},{"x":65.5,"y":2},{"x":66,"y":-4},{"x":66.5,"y":0},{"x":67,"y":2},{"x":67.5,"y":-2},{"x":68,"y":0},{"x":68.5,"y":2},{"x":69,"y":6},{"x":69.5,"y":0},{"x":70,"y":-6},{"x":70.5,"y":-2},{"x":71,"y":4},{"x":71.5,"y":0},{"x":72,"y":0},{"x":72.5,"y":-4},{"x":73,"y":-10},{"x":73.5,"y":-2},{"x":74,"y":6},{"x":74.5,"y":2},{"x":75,"y":-2},{"x":75.5,"y":2},{"x":76,"y":2},{"x":76.5,"y":-2},{"x":77,"y":-8},{"x":77.5,"y":-4},{"x":78,"y":-12},{"x":78.4,"y":-20},{"x":78.8,"y":-58},{"x":79.05,"y":-130},{"x":79.18,"y":-217},{"x":79.3,"y":-289},{"x":79.42,"y":-217},{"x":79.55,"y":-130},{"x":79.8,"y":-58},{"x":80.2,"y":-20},{"x":80.5,"y":-12},{"x":81,"y":-8},{"x":81.5,"y":0},{"x":82,"y":4},{"x":82.5,"y":0},{"x":83,"y":0},{"x":83.5,"y":4},{"x":84,"y":6},{"x":84.5,"y":2},{"x":85,"y":2},{"x":85.5,"y":-2},{"x":86,"y":-2},{"x":86.5,"y":2},{"x":87,"y":4},{"x":87.5,"y":8},{"x":88,"y":14},{"x":88.5,"y":4},{"x":89,"y":-4},{"x":89.5,"y":0},{"x":90,"y":0},{"x":90.5,"y":-4},{"x":91,"y":-10},{"x":91.5,"y":-2},{"x":92,"y":2},{"x":92.5,"y":0},{"x":93,"y":-4},{"x":93.5,"y":0},{"x":94,"y":0},{"x":94.5,"y":-4},{"x":95,"y":-6},{"x":95.5,"y":-10},{"x":96,"y":-12},{"x":96.5,"y":-6},{"x":97,"y":-4},{"x":97.5,"y":0},{"x":98,"y":0},{"x":98.5,"y":2},{"x":99,"y":-2},{"x":99.5,"y":0},{"x":100,"y":2}]
},
"concat": [
{"width":858,"height":790,
 "encoding":{"x":{"field":"x","type":"quantitative","scale":{"domain":[-4.74,105.26],"nice":false,"zero":false},"axis":null},"y":{"field":"y","type":"quantitative","scale":{"domain":[-375,415],"nice":false,"zero":false},"axis":null}},
 "layer":[
  {"data":{"name":"a1"},"mark":{"type":"line","color":"black","strokeWidth":4,"strokeJoin":"round"}},
  {"data":{"values":[{"x":-0.9,"y":339,"label":"(a)"},{"x":3,"y":199,"label":"0.5 s"}]},"mark":{"type":"text","align":"left","baseline":"alphabetic","font":"Liberation Serif","fontSize":62,"color":"black"},"encoding":{"text":{"field":"label"}}}
 ]},
{"width":822,"height":790,
 "encoding":{"x":{"field":"x","type":"quantitative","scale":{"domain":[-2.82,102.56],"nice":false,"zero":false},"axis":null},"y":{"field":"y","type":"quantitative","scale":{"domain":[-375,415],"nice":false,"zero":false},"axis":null}},
 "layer":[
  {"data":{"name":"a2"},"mark":{"type":"line","color":"black","strokeWidth":4,"strokeJoin":"round"}},
  {"data":{"values":[{"x":1.7,"y":202,"label":"1.0 s"}]},"mark":{"type":"text","align":"left","baseline":"alphabetic","font":"Liberation Serif","fontSize":62,"color":"black"},"encoding":{"text":{"field":"label"}}}
 ]},
{"width":822,"height":790,
 "encoding":{"x":{"field":"x","type":"quantitative","scale":{"domain":[-2.69,102.69],"nice":false,"zero":false},"axis":null},"y":{"field":"y","type":"quantitative","scale":{"domain":[-375,415],"nice":false,"zero":false},"axis":null}},
 "layer":[
  {"data":{"name":"a3"},"mark":{"type":"line","color":"black","strokeWidth":4,"strokeJoin":"round"}},
  {"data":{"values":[{"x":1.8,"y":198,"label":"1.5 s"}]},"mark":{"type":"text","align":"left","baseline":"alphabetic","font":"Liberation Serif","fontSize":62,"color":"black"},"encoding":{"text":{"field":"label"}}}
 ]},
{"width":874,"height":790,
 "encoding":{"x":{"field":"x","type":"quantitative","scale":{"domain":[-2.56,109.49],"nice":false,"zero":false},"axis":null},"y":{"field":"y","type":"quantitative","scale":{"domain":[-375,415],"nice":false,"zero":false},"axis":null}},
 "layer":[
  {"data":{"name":"a4"},"mark":{"type":"line","color":"black","strokeWidth":4,"strokeJoin":"round"}},
  {"data":{"values":[{"x":1.7,"y":198,"label":"2.0 s"}]},"mark":{"type":"text","align":"left","baseline":"alphabetic","font":"Liberation Serif","fontSize":62,"color":"black"},"encoding":{"text":{"field":"label"}}}
 ]},
{"width":858,"height":691,
 "encoding":{"x":{"field":"x","type":"quantitative","scale":{"domain":[-5.37,107.08],"nice":false,"zero":false},"axis":null},"y":{"field":"y","type":"quantitative","scale":{"domain":[-316,375],"nice":false,"zero":false},"axis":null}},
 "layer":[
  {"data":{"name":"b1"},"mark":{"type":"line","color":"black","strokeWidth":4,"strokeJoin":"round"}},
  {"data":{"values":[{"x":-1.3,"y":332,"label":"(b)"}]},"mark":{"type":"text","align":"left","baseline":"alphabetic","font":"Liberation Serif","fontSize":62,"color":"black"},"encoding":{"text":{"field":"label"}}}
 ]},
{"width":822,"height":691,
 "encoding":{"x":{"field":"x","type":"quantitative","scale":{"domain":[-2.10,105.63],"nice":false,"zero":false},"axis":null},"y":{"field":"y","type":"quantitative","scale":{"domain":[-316,375],"nice":false,"zero":false},"axis":null}},
 "layer":[
  {"data":{"name":"b2"},"mark":{"type":"line","color":"black","strokeWidth":4,"strokeJoin":"round"}}
 ]},
{"width":822,"height":691,
 "encoding":{"x":{"field":"x","type":"quantitative","scale":{"domain":[-2.23,105.50],"nice":false,"zero":false},"axis":null},"y":{"field":"y","type":"quantitative","scale":{"domain":[-316,375],"nice":false,"zero":false},"axis":null}},
 "layer":[
  {"data":{"name":"b3"},"mark":{"type":"line","color":"black","strokeWidth":4,"strokeJoin":"round"}}
 ]},
{"width":874,"height":691,
 "encoding":{"x":{"field":"x","type":"quantitative","scale":{"domain":[-1.97,112.58],"nice":false,"zero":false},"axis":null},"y":{"field":"y","type":"quantitative","scale":{"domain":[-316,375],"nice":false,"zero":false},"axis":null}},
 "layer":[
  {"data":{"name":"b4"},"mark":{"type":"line","color":"black","strokeWidth":4,"strokeJoin":"round"}}
 ]}
]
}
